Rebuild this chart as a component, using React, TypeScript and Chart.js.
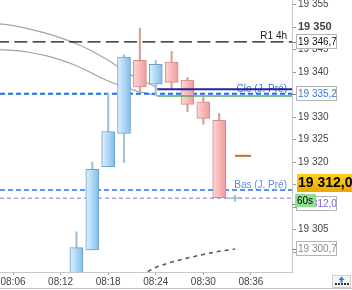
import React, { useEffect, useRef } from 'react';
import { Chart, registerables } from 'chart.js';
Chart.register(...registerables);

// ---- data ----
const candleMinutes = [14, 16, 18, 20, 22, 24, 26, 28, 30, 32, 34];
const opens = [19292.0, 19300.5, 19319.0, 19326.4, 19342.6, 19337.3, 19342.2, 19338.2, 19333.4, 19329.3, 19311.9];
const highs = [19304.5, 19320.0, 19335.3, 19343.8, 19349.7, 19342.6, 19344.6, 19338.8, 19334.4, 19330.8, 19312.6];
const lows = [19289.0, 19300.5, 19319.0, 19319.9, 19335.6, 19334.7, 19336.4, 19331.2, 19328.4, 19312.0, 19311.3];
const closes = [19301.0, 19318.4, 19326.8, 19343.3, 19336.7, 19341.7, 19337.7, 19332.8, 19329.7, 19312.1, 19312.1];

const maMinutes = [4, 6, 8, 10, 12, 14, 16, 18, 20, 22, 24, 24.2];
const maUpper = [19350.8, 19350.3, 19349.6, 19348.7, 19347.6, 19346.3, 19344.6, 19342.6, 19340.3, 19338.3, 19336.6, 19336.3];
const maLower = [19345.0, 19344.8, 19344.4, 19343.7, 19342.7, 19341.4, 19339.7, 19338.0, 19336.7, 19335.6, 19334.9, 19334.8];

const trendMinutes = [23, 24, 26, 28, 30, 32, 34];
const trendValues = [19295.7, 19296.6, 19297.8, 19298.7, 19299.5, 19300.2, 19300.7];

const r1Level = 19346.7;
const prevCloseLevel = 19335.2;
const prevLowLevel = 19313.8;
const lastPrice = 19312.0;
const navyLevel = 19336.2;
const greenLevel = 19334.7;
const levelStartMinute = 24.2;
const targetLevel = 19321.4;
const targetMinutes = [34, 36];
const trendEndLevel = 19300.7;

const xTickMinutes = [6, 12, 18, 24, 30, 36];
const yTicks = [19300, 19305, 19310, 19315, 19320, 19325, 19330, 19335, 19340, 19345, 19350, 19355];
const yHiddenLabels = [19300, 19310];
const boldTick = 19350;

const r1Label = 'R1 4h';
const cloLabel = 'Clo (J. Pré)';
const basLabel = 'Bas (J. Pré)';
const timerLabel = '60s';

const xMin = 4.36;
const xMax = 41.18;
const yMin = 19295.6;
const yMax = 19356;

const FONT = '"Liberation Sans", Arial, sans-serif';
const BODY_DATASET = 8;

const fmtPrice = (v: number, dec = 1) => {
  const s = v.toFixed(dec).replace('.', ',');
  const [i, d] = s.split(',');
  const ii = i.replace(/\B(?=(\d{3})+(?!\d))/g, ' ');
  return d !== undefined ? ii + ',' + d : ii;
};
const fmtTick = (v: number) => String(v).replace(/\B(?=(\d{3})+(?!\d))/g, ' ');

const hline = (v: number, from = xMin, to = xMax) => [
  { x: from, y: v },
  { x: to, y: v },
];
const up = (i: number) => closes[i] >= opens[i];

const overlay = {
  id: 'overlay',
  beforeDatasetsDraw(chart: any) {
    const { ctx, chartArea, scales } = chart;
    // gradient fill for candle bodies
    const meta = chart.getDatasetMeta(BODY_DATASET);
    meta.data.forEach((el: any, i: number) => {
      const px = el.x;
      if (!isFinite(px)) return;
      const g = ctx.createLinearGradient(px - 6.5, 0, px + 6.5, 0);
      if (up(i)) {
        g.addColorStop(0, '#dff2ff');
        g.addColorStop(1, '#7fbdea');
      } else {
        g.addColorStop(0, '#ffd6d6');
        g.addColorStop(1, '#f29a9a');
      }
      if (el.options) el.options.backgroundColor = g;
    });
    const y = scales.y;
    const rx = chartArea.right - 5;
    ctx.save();
    ctx.textAlign = 'right';
    ctx.textBaseline = 'alphabetic';
    ctx.font = '10px ' + FONT;
    ctx.fillStyle = '#1a1a1a';
    ctx.fillText(r1Label, rx, y.getPixelForValue(r1Level) - 3);
    ctx.fillStyle = '#3a6ee6';
    ctx.fillText(cloLabel, rx, y.getPixelForValue(prevCloseLevel) - 1.5);
    ctx.fillStyle = '#5a8ce8';
    ctx.fillText(basLabel, rx, y.getPixelForValue(prevLowLevel) - 2.5);
    ctx.restore();
  },
  afterDraw(chart: any) {
    const { ctx, chartArea, scales, width } = chart;
    const y = scales.y;
    const ax = chartArea.right;
    ctx.save();
    const box = (v: number, text: string, color: string, dy = 0, w = 40) => {
      const cy = Math.round(y.getPixelForValue(v) + dy);
      ctx.fillStyle = '#ffffff';
      ctx.fillRect(ax + 4.5, cy - 7.5, w, 14);
      ctx.strokeStyle = '#b4b4b4';
      ctx.lineWidth = 1;
      ctx.strokeRect(ax + 4.5, cy - 7.5, w, 14);
      ctx.beginPath();
      ctx.moveTo(ax, cy + 0.5);
      ctx.lineTo(ax + 4, cy + 0.5);
      ctx.strokeStyle = '#888';
      ctx.stroke();
      ctx.fillStyle = color;
      ctx.font = '10px ' + FONT;
      ctx.textAlign = 'left';
      ctx.textBaseline = 'middle';
      ctx.fillText(text, ax + 6, cy + 0.5);
    };
    box(r1Level, fmtPrice(r1Level), '#111111');
    box(prevCloseLevel, fmtPrice(prevCloseLevel), '#3a78e0');
    box(trendEndLevel, fmtPrice(trendEndLevel), '#8a8a8a');
    box(lastPrice, fmtPrice(lastPrice), '#7a6ad8', 6);

    // yellow last price box
    const ly = y.getPixelForValue(lastPrice);
    const top = Math.round(ly - 24);
    const g = ctx.createLinearGradient(0, top, 0, top + 18);
    g.addColorStop(0, '#ffd21a');
    g.addColorStop(1, '#eaa800');
    ctx.fillStyle = g;
    ctx.fillRect(ax + 5, top, width - ax - 5, 18);
    ctx.fillStyle = '#000';
    ctx.font = 'bold 14px ' + FONT;
    ctx.textAlign = 'left';
    ctx.textBaseline = 'middle';
    ctx.fillText(fmtPrice(lastPrice), ax + 6, top + 9.5);

    // timer box
    const ty = Math.round(ly - 4);
    ctx.fillStyle = '#8fe08f';
    ctx.fillRect(ax + 3, ty, 21, 13);
    ctx.fillStyle = '#000';
    ctx.font = '10px ' + FONT;
    ctx.fillText(timerLabel, ax + 5, ty + 7);

    // bottom frame line
    ctx.strokeStyle = '#c4c4c4';
    ctx.lineWidth = 1;
    ctx.beginPath();
    ctx.moveTo(0, 288.5);
    ctx.lineTo(width, 288.5);
    ctx.stroke();

    // small button bottom-right
    ctx.fillStyle = '#f6f6f6';
    ctx.fillRect(332.5, 275.5, 18, 12);
    ctx.strokeStyle = '#cfcfcf';
    ctx.strokeRect(332.5, 275.5, 18, 12);
    ctx.fillStyle = '#2a7ae0';
    ctx.beginPath();
    ctx.moveTo(341.5, 276.5);
    ctx.lineTo(338.5, 280);
    ctx.lineTo(344.5, 280);
    ctx.closePath();
    ctx.fill();
    ctx.fillRect(340.5, 279.5, 2, 3);
    ctx.fillStyle = '#333';
    for (let i = 0; i < 5; i++) ctx.fillRect(335 + i * 3, 283, 2, 2);
    ctx.restore();
  },
};

export default function App() {
  const ref = useRef<HTMLCanvasElement | null>(null);
  useEffect(() => {
    if (!ref.current) return;
    Chart.defaults.font.family = FONT;
    const chart = new Chart(ref.current, {
      type: 'bar',
      data: {
        datasets: [
          {
            type: 'line',
            data: maMinutes.map((m, i) => ({ x: m, y: maUpper[i] })),
            borderColor: '#a4a4a4',
            borderWidth: 1.2,
            pointRadius: 0,
            cubicInterpolationMode: 'monotone',
            order: 9,
            clip: 0,
          } as any,
          {
            type: 'line',
            data: maMinutes.map((m, i) => ({ x: m, y: maLower[i] })),
            borderColor: '#a4a4a4',
            borderWidth: 1.2,
            pointRadius: 0,
            cubicInterpolationMode: 'monotone',
            order: 9,
            clip: 0,
          } as any,
          {
            type: 'line',
            data: hline(r1Level),
            borderColor: '#111',
            borderWidth: 1.2,
            borderDash: [13, 5.3],
            borderDashOffset: 4,
            pointRadius: 0,
            order: 8,
            clip: 0,
          } as any,
          {
            type: 'line',
            data: hline(prevCloseLevel),
            borderColor: '#1a6cff',
            borderWidth: 2,
            borderDash: [5, 3],
            pointRadius: 0,
            order: 8,
            clip: 0,
          } as any,
          {
            type: 'line',
            data: hline(prevLowLevel),
            borderColor: '#2a6ef0',
            borderWidth: 1.6,
            borderDash: [5, 3],
            pointRadius: 0,
            order: 8,
            clip: 0,
          } as any,
          {
            type: 'line',
            data: hline(lastPrice),
            borderColor: '#7a72e0',
            borderWidth: 1,
            borderDash: [4, 3],
            pointRadius: 0,
            order: 8,
            clip: 0,
          } as any,
          {
            type: 'line',
            data: trendMinutes.map((m, i) => ({ x: m, y: trendValues[i] })),
            borderColor: '#555',
            borderWidth: 1.5,
            borderDash: [4, 4],
            pointRadius: 0,
            cubicInterpolationMode: 'monotone',
            order: 8,
            clip: 0,
          } as any,
          {
            type: 'bar',
            data: candleMinutes.map((m, i) => ({ x: m, y: [lows[i], highs[i]] })),
            backgroundColor: candleMinutes.map((_, i) => (up(i) ? '#a3c3da' : '#d2a2a2')),
            borderWidth: 0,
            barThickness: 1.5,
            grouped: false,
            order: 3,
            clip: 0,
          } as any,
          {
            type: 'bar',
            data: candleMinutes.map((m, i) => ({ x: m, y: [opens[i], closes[i]] })),
            backgroundColor: candleMinutes.map((_, i) => (up(i) ? '#a8d8f8' : '#f8b4b4')),
            borderColor: candleMinutes.map((_, i) => (up(i) ? '#6ea2c8' : '#d48a8a')),
            borderWidth: 1,
            borderSkipped: false,
            barThickness: 13,
            grouped: false,
            order: 2,
            clip: 0,
          } as any,
          {
            type: 'line',
            data: hline(navyLevel, levelStartMinute),
            borderColor: '#24249a',
            borderWidth: 2,
            pointRadius: 0,
            order: 1,
            clip: 0,
          } as any,
          {
            type: 'line',
            data: hline(greenLevel, levelStartMinute),
            borderColor: '#5ea45e',
            borderWidth: 1.5,
            pointRadius: 0,
            order: 1,
            clip: 0,
          } as any,
          {
            type: 'line',
            data: targetMinutes.map((m) => ({ x: m, y: targetLevel })),
            borderColor: '#b87333',
            borderWidth: 2,
            pointRadius: 0,
            order: 1,
            clip: 0,
          } as any,
        ],
      },
      options: {
        responsive: false,
        animation: false,
        devicePixelRatio: 1,
        events: [],
        layout: { padding: 0 },
        plugins: { legend: { display: false }, tooltip: { enabled: false } },
        scales: {
          x: {
            type: 'linear',
            min: xMin,
            max: xMax,
            offset: false,
            afterBuildTicks: (s: any) => {
              s.ticks = xTickMinutes.map((v) => ({ value: v }));
            },
            afterFit: (s: any) => {
              s.height = 18;
              s.paddingLeft = 0;
              s.paddingRight = 0;
            },
            grid: { drawOnChartArea: false, drawTicks: true, tickLength: 3, color: '#9a9a9a', offset: false },
            border: { color: '#c8c8c8' },
            ticks: {
              autoSkip: false,
              maxRotation: 0,
              padding: 1,
              color: '#444',
              font: { size: 10, family: FONT },
              callback: (v: any) => '08:' + String(v).padStart(2, '0'),
            },
          },
          y: {
            type: 'linear',
            position: 'right',
            min: yMin,
            max: yMax,
            afterBuildTicks: (s: any) => {
              s.ticks = yTicks.map((v) => ({ value: v }));
            },
            afterFit: (s: any) => {
              s.width = 60;
              s.paddingTop = 0;
              s.paddingBottom = 0;
            },
            grid: { drawOnChartArea: false, drawTicks: true, tickLength: 4, color: '#9a9a9a' },
            border: { color: '#c8c8c8' },
            ticks: {
              autoSkip: false,
              padding: 2,
              color: '#444',
              font: (c: any) =>
                c.tick && c.tick.value === boldTick
                  ? { size: 11, weight: 'bold', family: FONT }
                  : { size: 10, family: FONT },
              callback: (v: any) => (yHiddenLabels.includes(v) ? '' : fmtTick(v)),
            },
          },
        },
      } as any,
      plugins: [overlay],
    });
    return () => chart.destroy();
  }, []);
  return (
    <div style={{ position: 'absolute', left: 0, top: 0, width: 352, height: 290, background: '#fff' }}>
      <canvas ref={ref} width={352} height={290} style={{ width: 352, height: 290, display: 'block' }} />
    </div>
  );
}
